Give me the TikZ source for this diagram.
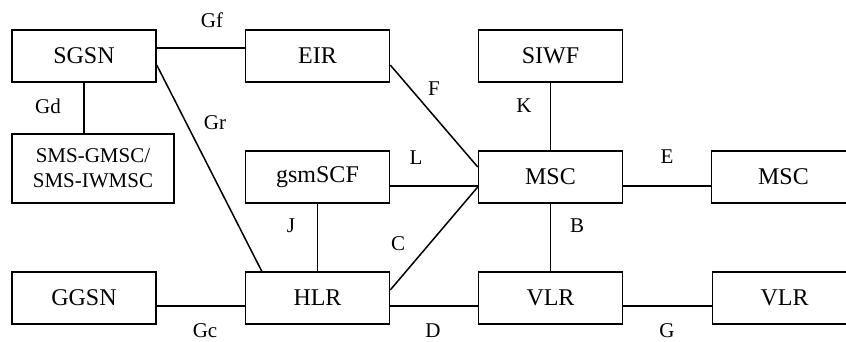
\documentclass[tikz,border=0pt]{standalone}
\usepackage{fontspec}
\setmainfont{Liberation Serif}
\begin{document}
\begin{tikzpicture}[x=1pt, y=-1pt, line width=1.5pt,
    box/.style={draw, minimum width=144pt, minimum height=52pt, inner sep=0pt, font=\fontsize{24}{26}\selectfont},
    smsbox/.style={box, minimum width=162pt, minimum height=69pt, align=center, font=\fontsize{21}{25}\selectfont},
    iface/.style={inner sep=0pt, font=\fontsize{21}{24}\selectfont}]
    % Fix the page size
    \useasboundingbox (0, 0) rectangle (846, 342);

    % Top row
    \node[box] (sgsn) at (84, 56) {SGSN};
    \node[box] (eir) at (317.5, 56) {EIR};
    \node[box] (siwf) at (550.5, 56) {SIWF};

    % Middle row
    \node[smsbox] (sms) at (93, 168.5) {SMS-GMSC/\\SMS-IWMSC};
    \node[box] (gsmscf) at (317.5, 177) {gsmSCF};
    \node[box] (msc) at (550.5, 177) {MSC};
    \node[box] (msctwo) at (783.5, 177) {MSC};

    % Bottom row
    \node[box] (ggsn) at (84, 298) {GGSN};
    \node[box] (hlr) at (317.5, 298) {HLR};
    \node[box] (vlr) at (550.5, 298) {VLR};
    \node[box] (vlrtwo) at (784.5, 298) {VLR};

    % Interfaces
    \draw ([yshift=8pt]sgsn.east) -- ([yshift=8pt]eir.west);
    \draw (sgsn.south) -- (sgsn.south |- sms.north);
    \draw ([yshift=-9pt]sgsn.east) -- ([xshift=17pt]hlr.north west);
    \draw ([yshift=-9pt]eir.east) -- ([yshift=10pt]msc.west);
    \draw (siwf.south) -- (msc.north);
    \draw ([yshift=-9pt]gsmscf.east) -- ([yshift=-9pt]msc.west);
    \draw ([yshift=-9pt]msc.east) -- ([yshift=-9pt]msctwo.west);
    \draw (gsmscf.south) -- (hlr.north);
    \draw ([yshift=8pt]hlr.east) -- ([yshift=-10pt]msc.west);
    \draw (msc.south) -- (vlr.north);
    \draw ([yshift=-8pt]ggsn.east) -- ([yshift=-8pt]hlr.west);
    \draw ([yshift=-8pt]hlr.east) -- ([yshift=-8pt]vlr.west);
    \draw ([yshift=-8pt]vlr.east) -- ([yshift=-8pt]vlrtwo.west);

    % Interface names
    \node[iface] (gf) at (212, 20) {Gf};
    \node[iface] (gd) at (48, 106) {Gd};
    \node[iface] (gr) at (215, 123) {Gr};
    \node[iface] (f) at (434, 89) {F};
    \node[iface] (k) at (524, 106) {K};
    \node[iface] (l) at (416, 158) {L};
    \node[iface] (e) at (667, 157) {E};
    \node[iface] (j) at (291, 226) {J};
    \node[iface] (c) at (398, 244) {C};
    \node[iface] (b) at (577, 226) {B};
    \node[iface] (gc) at (205, 331) {Gc};
    \node[iface] (d) at (433, 331) {D};
    \node[iface] (g) at (667, 331) {G};
\end{tikzpicture}
\end{document}
